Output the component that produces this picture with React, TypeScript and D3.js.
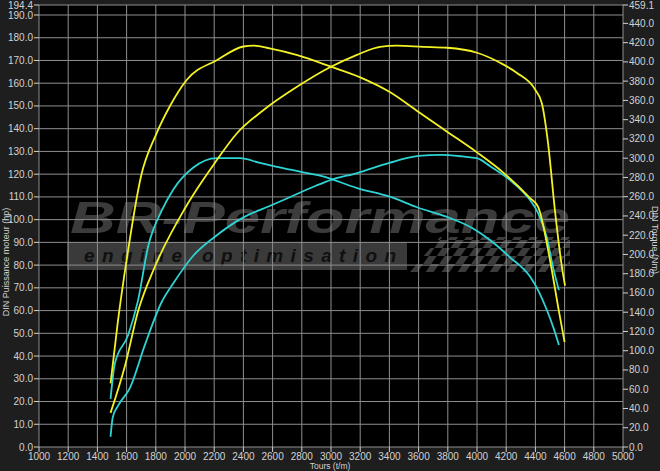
import React from "react";
import * as d3 from "d3";

// valeurs
const rpmTicks = d3.range(1000, 5001, 200);
const hpTicks = d3.range(0, 191, 10).concat([194.4]);
const nmTicks = d3.range(0, 441, 20).concat([459.1]);

const tunedTorqueRpm = [1490, 1540, 1600, 1700, 1800, 1900, 2010, 2220, 2400, 2470, 2580, 2770, 3000, 3200, 3400, 3600, 3800, 4000, 4180, 4360, 4420, 4500, 4560, 4600];
const tunedTorqueNm = [66, 130, 194, 282, 324, 355, 381, 402, 416, 417, 414, 407, 395, 384, 369, 348, 327, 306, 285, 259, 249, 194, 142, 109];

const tunedPowerRpm = [1490, 1590, 1680, 1795, 2000, 2205, 2356, 2534, 2767, 2993, 3178, 3336, 3452, 3630, 3795, 4000, 4158, 4274, 4400, 4445, 4486, 4534, 4582, 4603];
const tunedPowerHp = [15, 36, 60, 79.5, 105, 125, 138, 148, 158.4, 167, 172.5, 176, 176.5, 176, 175.6, 173.4, 169, 164.5, 157, 151, 134, 104, 79, 71];

const stockTorqueRpm = [1490, 1520, 1610, 1678, 1747, 1842, 1918, 2055, 2219, 2377, 2514, 2630, 2788, 2945, 3178, 3404, 3589, 3795, 3973, 4089, 4226, 4363, 4418, 4479, 4521, 4561];
const stockTorqueNm = [50, 87, 116, 152, 208, 246, 267, 290, 300, 300, 295, 291, 286, 281, 269, 260, 249, 239, 227, 215, 197, 177, 163, 142, 125, 106];

const stockPowerRpm = [1490, 1505, 1540, 1623, 1726, 1842, 1920, 2055, 2205, 2400, 2580, 2740, 2900, 3000, 3180, 3400, 3600, 3750, 3900, 4000, 4090, 4226, 4363, 4418, 4479, 4521, 4561];
const stockPowerHp = [4.5, 13, 18, 26, 45, 64, 72, 84, 92.5, 101, 106, 110.5, 115, 117.5, 120.5, 125, 128, 128.5, 127.8, 127, 123.5, 117.4, 108.6, 103, 92, 79, 69];

const W = 660;
const H = 471;
const left = 39;
const right = 623;
const top = 5;
const bottom = 447;

const YELLOW = "#f2f224";
const CYAN = "#2ed3d3";
const TXT = "#d2d2d2";
const FONT = "'Liberation Sans', Arial, sans-serif";

export default function App() {
  const x = d3.scaleLinear().domain([1000, 5000]).range([left, right]);
  const yHp = d3.scaleLinear().domain([0, 194.4]).range([bottom, top]);
  const yNm = d3.scaleLinear().domain([0, 459.1]).range([bottom, top]);

  const mk = (rpm: number[], vals: number[], y: d3.ScaleLinear<number, number>) =>
    d3
      .line<number>()
      .x((_, i) => x(rpm[i]))
      .y((v) => y(v))
      .curve(d3.curveMonotoneX)(vals) || "";

  const curves = [
    { d: mk(stockPowerRpm, stockPowerHp, yHp), c: CYAN },
    { d: mk(stockTorqueRpm, stockTorqueNm, yNm), c: CYAN },
    { d: mk(tunedPowerRpm, tunedPowerHp, yHp), c: YELLOW },
    { d: mk(tunedTorqueRpm, tunedTorqueNm, yNm), c: YELLOW },
  ];

  return (
    <svg
      width={W}
      height={H}
      style={{ position: "absolute", left: 0, top: 0, background: "#1e1e1e", fontFamily: FONT }}
    >
      <defs>
        <pattern id="chk" width="16" height="16" patternUnits="userSpaceOnUse" patternTransform="skewX(-35)">
          <rect width="8" height="8" fill="#3c3c3c" />
          <rect x="8" y="8" width="8" height="8" fill="#3c3c3c" />
        </pattern>
      </defs>

      <rect x={left} y={top} width={right - left} height={bottom - top} fill="#000" />

      {/* filigrane */}
      <g>
        <text
          x={70}
          y={233}
          fontSize={44}
          fontWeight={900}
          fontStyle="italic"
          fill="#3b3b3b"
          textLength={500}
          lengthAdjust="spacingAndGlyphs"
        >
          BR-Performance
        </text>
        <rect x={67} y={242} width={340} height={28} fill="#3a3a3a" />
        <polygon points="410,272 440,237 570,237 570,272" fill="url(#chk)" />
        <text
          x={84}
          y={262}
          fontSize={19}
          fontWeight={700}
          fontStyle="italic"
          fill="#101010"
          textLength={312}
          lengthAdjust="spacing"
        >
          engine optimisation
        </text>
      </g>

      {/* grille */}
      <g stroke="#8e8e8e" strokeWidth={1}>
        {rpmTicks.map((t) => (
          <line key={"v" + t} x1={x(t)} x2={x(t)} y1={top} y2={bottom} />
        ))}
        {hpTicks.map((t) => (
          <line key={"h" + t} x1={left} x2={right} y1={yHp(t)} y2={yHp(t)} />
        ))}
      </g>

      {/* axes */}
      <g fontSize={10} fill={TXT}>
        {hpTicks.map((t) => (
          <g key={"l" + t}>
            <line x1={left - 5} x2={left} y1={yHp(t)} y2={yHp(t)} stroke={TXT} />
            <text x={left - 6} y={yHp(t)} dy="0.35em" textAnchor="end">
              {t.toFixed(1)}
            </text>
          </g>
        ))}
        {nmTicks.map((t) => (
          <g key={"r" + t}>
            <line x1={right} x2={right + 5} y1={yNm(t)} y2={yNm(t)} stroke={TXT} />
            <text x={right + 6} y={yNm(t)} dy="0.35em">
              {t.toFixed(1)}
            </text>
          </g>
        ))}
        {rpmTicks.map((t) => (
          <g key={"b" + t}>
            <line x1={x(t)} x2={x(t)} y1={bottom} y2={bottom + 5} stroke={TXT} />
            <text x={x(t)} y={460} textAnchor="middle">
              {t}
            </text>
          </g>
        ))}
        <text x={330} y={468.5} textAnchor="middle" fontSize={8.5}>
          Tours (t/m)
        </text>
        <text transform="translate(9,262) rotate(-90)" textAnchor="middle" fontSize={9}>
          DIN Puissance moteur (hp)
        </text>
        <text transform="translate(652,240) rotate(90)" textAnchor="middle" fontSize={9}>
          DIN Torque (Nm)
        </text>
      </g>

      {/* courbes */}
      <g fill="none" strokeWidth={1.8} strokeLinejoin="round">
        {curves.map((c, i) => (
          <path key={i} d={c.d} stroke={c.c} />
        ))}
      </g>
    </svg>
  );
}
